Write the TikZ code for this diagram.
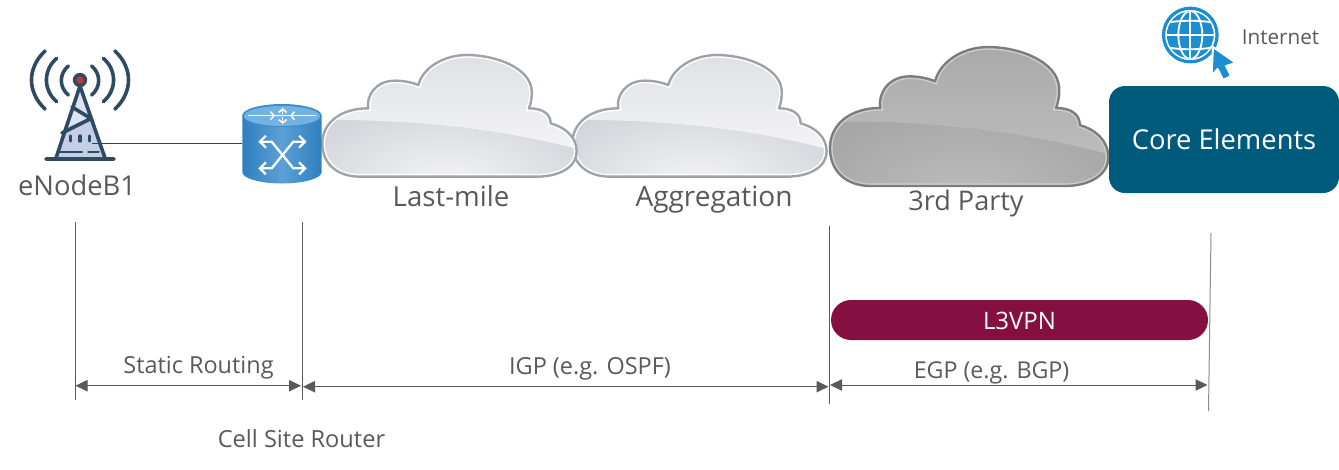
\documentclass[tikz,border=0pt]{standalone}
\usepackage{fontspec}
\setmainfont{Open Sans}
\usetikzlibrary{arrows.meta}
\definecolor{txt}{HTML}{595959}
\definecolor{tower}{HTML}{2F4A63}
\definecolor{core}{HTML}{005A7C}
\definecolor{vpn}{HTML}{860F42}
\definecolor{globe}{HTML}{1C8DCF}
\definecolor{ltop}{HTML}{DFE0E4}
\definecolor{lmid}{HTML}{F4F4F6}
\definecolor{llow}{HTML}{CFD1D7}
\definecolor{lrim}{HTML}{A0A2AA}
\definecolor{dtop}{HTML}{A9A9A9}
\definecolor{dmid}{HTML}{BCBCBC}
\definecolor{dlow}{HTML}{A3A3A3}
\definecolor{dglow}{HTML}{CDCDCD}
\definecolor{drim}{HTML}{7C7C7C}
\definecolor{twa}{HTML}{DCE3F2}
\definecolor{twb}{HTML}{C4CFE6}
\definecolor{twred}{HTML}{C0392B}
\definecolor{rta}{HTML}{2F7FBE}
\definecolor{rtb}{HTML}{5BA0D6}
\definecolor{rtc}{HTML}{3F8CCB}
\definecolor{rtd}{HTML}{74B2E2}
\definecolor{wire}{HTML}{0F4F75}
\definecolor{tickb}{HTML}{8C8C8C}
\newcommand{\cloudshape}{(145,205) .. controls (138,170) and (165,122) .. (225,122) .. controls (250,122) and (275,127) .. (295,135) .. controls (310,80) and (375,45) .. (440,45) .. controls (530,45) and (630,85) .. (635,150) .. controls (637,175) and (632,190) .. (627,205) .. controls (665,205) and (692,220) .. (692,250) .. controls (735,262) and (770,290) .. (770,335) .. controls (770,380) and (720,410) .. (650,410) -- (120,410) .. controls (50,410) and (7,370) .. (7,310) .. controls (7,250) and (60,205) .. (145,205) -- cycle}
\newcommand{\drawcloud}[9]{%
\begin{scope}[shift={(#1,#2)},xscale=#3,yscale=#4]
\begin{scope}
\clip \cloudshape;
\shade[top color=#5,bottom color=#6] (0,40) rectangle (780,330);
\begin{scope}
\clip (0,242) .. controls (200,237) and (500,255) .. (780,330) -- (780,420) -- (0,420) -- cycle;
\fill[#7] (0,230) rectangle (780,420);
\shade[inner color=#6,outer color=#7] (380,430) ellipse[x radius=540,y radius=270];
\end{scope}
\draw[#8,line width=4pt] \cloudshape;
\end{scope}
\draw[#9,line width=1.8pt,line join=round] \cloudshape;
\end{scope}}
\tikzset{
  x=0.75pt,y=-0.75pt,
  lab/.style={anchor=base,inner sep=0pt,text=txt},
  tick/.style={draw=txt,line width=0.75pt},
  span/.style={draw=txt,line width=0.75pt,{Triangle[length=9pt,width=8.5pt]}-{Triangle[length=9pt,width=8.5pt]}},
  twr/.style={draw=tower,line width=2.7pt,line cap=round,line join=round},
  rte/.style={draw=white,line width=1.7pt},
  barbs/.style={{Straight Barb[length=4.5pt,width=9pt,line width=1.7pt]}-{Straight Barb[length=4.5pt,width=9pt,line width=1.7pt]}},
  mini/.style={draw=white,line width=1.1pt,-{Straight Barb[length=2.6pt,width=6pt,line width=1.1pt]}},
}
\begin{document}
\begin{tikzpicture}
\useasboundingbox (0,0) rectangle (1339,469);
% clouds
\drawcloud{570}{40}{0.3333}{0.3333}{ltop}{lmid}{llow}{white}{lrim}
\drawcloud{320}{40}{0.3333}{0.3333}{ltop}{lmid}{llow}{white}{lrim}
\drawcloud{827.4}{29.9}{0.3648}{0.3808}{dtop}{dmid}{dlow}{dglow}{drim}
% tower
\fill[twa] (80,84) -- (93,118) -- (62,133) -- cycle;
\fill[twb] (62,133) -- (93,118) -- (105,158) -- (56,158) -- cycle;
\draw[twr] (80,86) -- (56,158) (80,86) -- (105,158) (46,159) -- (114,159);
\draw[twr] (72,107) -- (91,118.5) -- (62,133);
\draw[twr,line width=2.6pt] (70.7,136) -- (70.7,141) (80,136) -- (80,141) (89.3,136) -- (89.3,141);
\draw[twr,line width=2.2pt] (60,152) -- (82,152) (88.5,152) -- (98.5,152);
\draw[twr] (68.3,66) .. controls (59,74) and (59,87) .. (68.3,95);
\draw[twr] (91.7,66) .. controls (101,74) and (101,87) .. (91.7,95);
\draw[twr] (56.7,58.3) .. controls (43,70) and (43,90) .. (56.7,101.7);
\draw[twr] (103.3,58.3) .. controls (117,70) and (117,90) .. (103.3,101.7);
\draw[twr] (45,51) .. controls (27,68) and (27,92) .. (45,109);
\draw[twr] (115,51) .. controls (133,68) and (133,92) .. (115,109);
\fill[tower] (80,80) circle[radius=7.2];
\fill[twred] (80,80) circle[radius=3.6];
\coordinate (enb) at (92,143.3);
% router
\node[minimum width=60pt,minimum height=60pt,inner sep=0pt] (router) at (282,143.3) {};
\shade[left color=rta,right color=rta,middle color=rtb] (242.3,115.5) -- (242.3,172) arc[start angle=180,end angle=0,x radius=39.7,y radius=11.5] -- (321.7,115.5) -- cycle;
\fill[rtc] (282,115.5) ellipse[x radius=39.7,y radius=11.5];
\fill[rtd] (282,116) ellipse[x radius=38,y radius=10];
\draw[rte,line width=0.7pt] (248,115.7) -- (316,115.7);
\draw[mini] (282.7,114) -- (282.7,108);
\draw[mini] (282.7,117) -- (282.7,124);
\draw[mini] (262,115.7) -- (275,115.7);
\draw[mini] (303,115.7) -- (290,115.7);
\draw[rte,barbs] (258.3,141.7) -- (271.7,141.7) -- (293.3,168.3) -- (306.7,168.3);
\draw[rte,barbs] (306.7,141.7) -- (293.3,141.7) -- (271.7,168.3) -- (258.3,168.3);
\draw[draw=wire,line width=0.8pt] (enb) -- (router.west);
% globe
\draw[globe,line width=2.4pt] (1190.3,35) circle[radius=26.8];
\begin{scope}
\clip (1190.3,35) circle[radius=23.5];
\fill[globe] (1190.3,35) circle[radius=23.5];
\draw[white,line width=1.4pt] (1190.3,35) ellipse[x radius=12,y radius=24];
\draw[white,line width=1.4pt] (1190.3,10) -- (1190.3,60) (1165,35) -- (1216,35);
\draw[white,line width=1.4pt] (1165,23) .. controls (1180,20) and (1200,20) .. (1216,23);
\draw[white,line width=1.4pt] (1165,47) .. controls (1180,50) and (1200,50) .. (1216,47);
\end{scope}
\fill[globe,draw=white,line width=1.5pt,line join=round] (1213,47) -- (1236,63) -- (1226,66) -- (1231,76) -- (1223,80) -- (1217.5,69) -- (1211.5,76) -- cycle;
% boxes
\node[fill=core,rounded corners=12pt,minimum width=172.5pt,minimum height=80.25pt,inner sep=0pt,outer sep=0pt] (coreb) at (1224,139.5) {};
\node[lab,text=white,font=\fontsize{20.5}{24}\selectfont] (corel) at (1224,149.3) {Core Elements};
\node[fill=vpn,rounded corners=15pt,minimum width=282.75pt,minimum height=30pt,inner sep=0pt,outer sep=0pt] (vpnb) at (1019.5,320) {};
\node[lab,text=white,font=\fontsize{18}{22}\selectfont] (vpnl) at (1019.5,329.3) {L3VPN};
% ticks
\coordinate (t1) at (75,222); \coordinate (b1) at (75,400);
\coordinate (t2) at (302,222); \coordinate (b2) at (302,400);
\coordinate (t3) at (829,226); \coordinate (b3) at (829,404);
\coordinate (t4) at (1211,233); \coordinate (b4) at (1208.5,411);
\draw[tick] (t1) -- (b1);
\draw[tick] (t2) -- (b2);
\draw[tick] (t3) -- (b3);
\draw[tick,draw=tickb] (t4) -- (b4);
\coordinate (a1) at (75.5,385.7); \coordinate (a2) at (301,385.7);
\coordinate (a3) at (303,386.7); \coordinate (a4) at (828.5,386.7);
\coordinate (a5) at (830,385); \coordinate (a6) at (1207.5,385);
\draw[span] (a1) -- (a2);
\draw[span] (a3) -- (a4);
\draw[span] (a5) -- (a6);
% labels
\node[lab,font=\fontsize{20.5}{24}\selectfont] (l1) at (77,195) {eNodeB1};
\node[lab,font=\fontsize{15.5}{18}\selectfont] (l2) at (1280.5,44) {Internet};
\node[lab,font=\fontsize{20.7}{24}\selectfont] (l3) at (451,206.7) {Last-mile};
\node[lab,font=\fontsize{21}{24}\selectfont] (l4) at (714,206.7) {Aggregation};
\node[lab,font=\fontsize{20.3}{24}\selectfont] (l5) at (966,210) {3rd Party};
\node[lab,font=\fontsize{17.6}{21}\selectfont] (l6) at (198.5,373.3) {Static Routing};
\node[lab,font=\fontsize{17.6}{21}\selectfont] (l7) at (590,374) {IGP (e.g. OSPF)};
\node[lab,font=\fontsize{17.4}{21}\selectfont] (l8) at (991.5,378.3) {EGP (e.g. BGP)};
\node[lab,font=\fontsize{17.7}{21}\selectfont] (l9) at (301.5,447.7) {Cell Site Router};
\end{tikzpicture}
\end{document}
